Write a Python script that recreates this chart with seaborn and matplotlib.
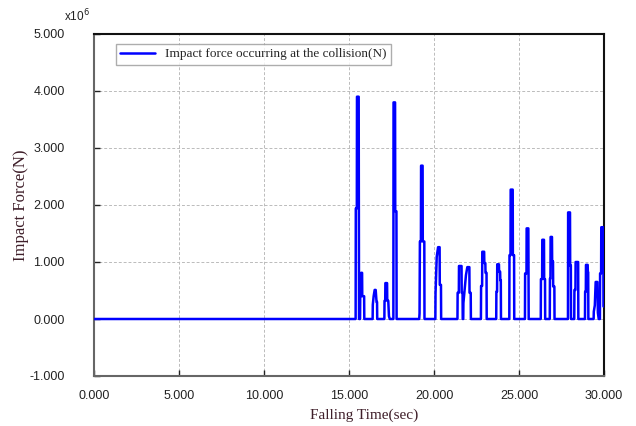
import matplotlib
matplotlib.use("Agg")
import matplotlib.pyplot as plt
import seaborn as sns
import pandas as pd
from matplotlib.ticker import FormatStrFormatter

# Data (force in units of 1e6 N)
time_sec = [0.0, 15.38,
    15.39, 15.40, 15.46, 15.47, 15.57, 15.59,
    15.65, 15.66, 15.70, 15.71, 15.77, 15.78, 15.89, 15.90,
    16.39, 16.40, 16.45, 16.51, 16.57, 16.62, 16.65, 16.66,
    17.08, 17.09, 17.13, 17.14, 17.24, 17.25, 17.31, 17.35, 17.40,
    17.61, 17.62, 17.71, 17.72, 17.79, 17.80,
    19.13, 19.15, 19.17, 19.23, 19.24, 19.33, 19.34, 19.43, 19.44,
    20.08, 20.09, 20.16, 20.24, 20.33, 20.34, 20.41, 20.42,
    21.38, 21.39, 21.46, 21.47, 21.62, 21.63, 21.68, 21.69,
    21.72, 21.73, 21.88, 21.96, 22.08, 22.09, 22.16, 22.17,
    22.76, 22.77, 22.83, 22.84, 22.95, 22.96, 23.02, 23.03, 23.09, 23.10,
    23.66, 23.67, 23.71, 23.72, 23.82, 23.83, 23.89, 23.90, 23.93, 23.94,
    24.43, 24.44, 24.50, 24.51, 24.63, 24.64, 24.71, 24.72,
    25.35, 25.36, 25.44, 25.45, 25.55, 25.57,
    26.28, 26.29, 26.36, 26.37, 26.47, 26.48, 26.53, 26.54,
    26.81, 26.82, 26.85, 26.86, 26.94, 26.95, 27.00, 27.01, 27.08, 27.09,
    27.88, 27.89, 28.00, 28.01, 28.05, 28.06,
    28.25, 28.26, 28.32, 28.33, 28.48, 28.49,
    28.88, 28.89, 28.93, 28.94, 29.04, 29.05, 29.07, 29.08,
    29.39, 29.40, 29.46, 29.51, 29.61, 29.64, 29.69,
    29.76, 29.77, 29.83, 29.84, 29.96, 29.97, 30.00]
force_1e6 = [0.0, 0.0,
    0.0, 1.94, 1.94, 3.90, 3.90, 0.0,
    0.0, 0.40, 0.40, 0.81, 0.81, 0.40, 0.40, 0.0,
    0.0, 0.25, 0.40, 0.51, 0.51, 0.30, 0.30, 0.0,
    0.0, 0.32, 0.32, 0.63, 0.63, 0.32, 0.32, 0.05, 0.0,
    0.0, 3.80, 3.80, 1.89, 1.89, 0.0,
    0.0, 0.10, 1.36, 1.36, 2.69, 2.69, 1.36, 1.36, 0.0,
    0.0, 0.45, 1.09, 1.26, 1.26, 0.60, 0.60, 0.0,
    0.0, 0.46, 0.46, 0.93, 0.93, 0.46, 0.46, 0.0,
    0.0, 0.28, 0.77, 0.91, 0.91, 0.46, 0.46, 0.0,
    0.0, 0.58, 0.58, 1.18, 1.18, 0.98, 0.98, 0.81, 0.81, 0.0,
    0.0, 0.48, 0.48, 0.96, 0.96, 0.83, 0.83, 0.68, 0.68, 0.0,
    0.0, 1.12, 1.12, 2.27, 2.27, 1.12, 1.12, 0.0,
    0.0, 0.80, 0.80, 1.59, 1.59, 0.0,
    0.0, 0.70, 0.70, 1.39, 1.39, 0.70, 0.70, 0.0,
    0.0, 0.71, 0.71, 1.44, 1.44, 1.01, 1.01, 0.57, 0.57, 0.0,
    0.0, 1.87, 1.87, 0.94, 0.94, 0.0,
    0.0, 0.51, 0.51, 1.00, 1.00, 0.0,
    0.0, 0.48, 0.48, 0.95, 0.95, 0.82, 0.82, 0.0,
    0.0, 0.13, 0.24, 0.65, 0.65, 0.11, 0.0,
    0.0, 0.80, 0.80, 1.61, 1.61, 0.22, 0.22]
series_label = "Impact force occurring at the collision(N)"
x_ticks = [0, 5, 10, 15, 20, 25, 30]
y_ticks = [-1, 0, 1, 2, 3, 4, 5]

df = pd.DataFrame({"t": time_sec, "f": force_1e6})

sns.set_theme(style="white")
plt.rcParams['font.family'] = ['Liberation Sans', 'DejaVu Sans']

fig = plt.figure(figsize=(6.36, 4.26), dpi=100)
ax = fig.add_axes([94/636, 1-376/426, 510/636, 342/426])

sns.lineplot(data=df, x="t", y="f", ax=ax, estimator=None, sort=False,
             color="#0000ff", linewidth=1.8, label=series_label, zorder=3)

ax.set_xlim(0, 30)
ax.set_ylim(-1, 5)
ax.set_xticks(x_ticks)
ax.set_yticks(y_ticks)
ax.xaxis.set_major_formatter(FormatStrFormatter('%.3f'))
ax.yaxis.set_major_formatter(FormatStrFormatter('%.3f'))
ax.grid(True, color="#bbbbbb", linestyle=(0, (3, 2)), linewidth=0.7)
ax.tick_params(direction="in", length=4, width=1, colors="#222222",
               labelsize=9, left=True, bottom=True)
ax.tick_params(axis="x", pad=10)
ax.tick_params(axis="y", pad=21)
for lab in ax.get_xticklabels() + ax.get_yticklabels():
    lab.set_color("#222222")

for side in ["left", "bottom"]:
    ax.spines[side].set_color("#666666")
    ax.spines[side].set_linewidth(1.5)
for side in ["top", "right"]:
    ax.spines[side].set_color("#111111")
    ax.spines[side].set_linewidth(1.5)

label_color = "#3f1f2a"
ax.set_xlabel("Falling Time(sec)", family=["Liberation Serif", "DejaVu Serif"],
              fontsize=11, color=label_color)
ax.xaxis.set_label_coords(0.53, -0.095)
ax.set_ylabel("Impact Force(N)", family=["Liberation Serif", "DejaVu Serif"],
              fontsize=12, color=label_color)
ax.yaxis.set_label_coords(-0.128, 0.5)

fig.text(77/636, 1-16/426, r"x10$^6$", fontsize=8.5, ha="center", va="center",
         color="#222222")

leg = ax.legend(loc="upper left", bbox_to_anchor=(0.0425, 0.972), borderaxespad=0,
                frameon=True, fancybox=False, edgecolor="#999999",
                prop={"family": ["Liberation Serif", "DejaVu Serif"], "size": 9.5},
                handlelength=2.6, borderpad=0.35)
leg.get_frame().set_linewidth(1.0)

fig.savefig("out.png", dpi=100)
